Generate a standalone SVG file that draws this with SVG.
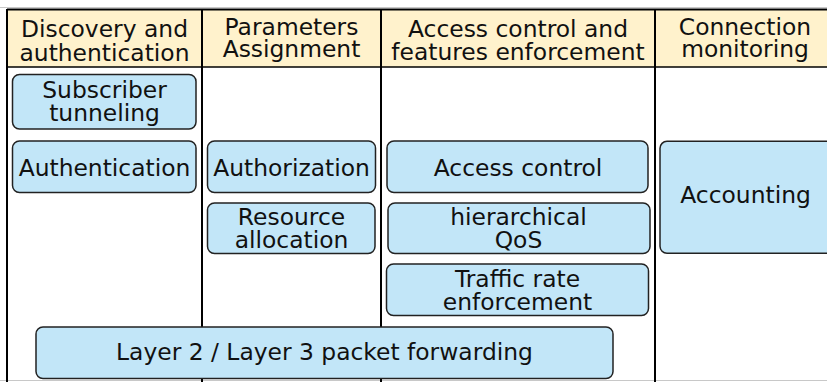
<svg xmlns="http://www.w3.org/2000/svg" width="827" height="382" viewBox="0 0 827 382">
<style>
.t{font-family:"DejaVu Sans","Noto Sans",sans-serif;font-size:23.4px;fill:#111;text-anchor:middle}
.b{fill:#c2e6f8;stroke:#222;stroke-width:1.5}
.ln{stroke:#000;stroke-width:2;fill:none}
</style>
<rect x="0" y="0" width="827" height="382" fill="#fff"/>
<g id="frame">
<line x1="0" y1="7.5" x2="827" y2="7.5" stroke="#c8c8c8" stroke-width="1.2"/>
<line x1="0" y1="380.5" x2="827" y2="380.5" stroke="#c8c8c8" stroke-width="1.2"/>
<rect x="7" y="9.5" width="830" height="57.5" fill="#fff2cc"/>
<line class="ln" x1="7" y1="9.5" x2="827" y2="9.5"/>
<line x1="7" y1="67" x2="827" y2="67" stroke="#000" stroke-width="1.5"/>
<line class="ln" x1="7" y1="9" x2="7" y2="382"/>
<line class="ln" x1="202" y1="9" x2="202" y2="382"/>
<line class="ln" x1="381" y1="9" x2="381" y2="382"/>
<line class="ln" x1="655" y1="9" x2="655" y2="382"/>
</g>
<g id="headers">
<text class="t" x="104.5" y="36.5">Discovery and</text>
<text class="t" x="104.5" y="60.5">authentication</text>
<text class="t" x="291.5" y="35">Parameters</text>
<text class="t" x="291.5" y="57">Assignment</text>
<text class="t" x="518" y="36.5">Access control and</text>
<text class="t" x="518" y="60">features enforcement</text>
<text class="t" x="745" y="35">Connection</text>
<text class="t" x="745" y="57.3">monitoring</text>
</g>
<g id="n-subscriber-tunneling">
<rect class="b" x="12.5" y="74.5" width="183.5" height="54.5" rx="7"/>
<text class="t" x="104.5" y="97.5">Subscriber</text>
<text class="t" x="104.5" y="120.5">tunneling</text>
</g>
<g id="n-authentication">
<rect class="b" x="12.5" y="141" width="183.5" height="51.5" rx="7"/>
<text class="t" x="104.5" y="175.7">Authentication</text>
</g>
<g id="n-authorization">
<rect class="b" x="207.5" y="141" width="168" height="51.5" rx="7"/>
<text class="t" x="291.5" y="175.7">Authorization</text>
</g>
<g id="n-resource-allocation">
<rect class="b" x="207.5" y="203" width="167.5" height="50.5" rx="7"/>
<text class="t" x="291.5" y="225">Resource</text>
<text class="t" x="291.5" y="248.3">allocation</text>
</g>
<g id="n-access-control">
<rect class="b" x="387" y="141" width="261" height="51.5" rx="7"/>
<text class="t" x="518" y="175.7">Access control</text>
</g>
<g id="n-hierarchical-qos">
<rect class="b" x="388" y="203" width="262" height="50.5" rx="7"/>
<text class="t" x="518.5" y="225">hierarchical</text>
<text class="t" x="518.5" y="248.3">QoS</text>
</g>
<g id="n-traffic-rate">
<rect class="b" x="386.5" y="264" width="262" height="51.5" rx="7"/>
<text class="t" x="517.5" y="286.7">Traffic rate</text>
<text class="t" x="517.5" y="310">enforcement</text>
</g>
<g id="n-accounting">
<rect class="b" x="660" y="141.3" width="180" height="112" rx="7"/>
<text class="t" x="745.5" y="203.3">Accounting</text>
</g>
<g id="n-forwarding">
<rect class="b" x="36" y="327" width="577" height="51.5" rx="7"/>
<text class="t" x="324.5" y="360">Layer 2 / Layer 3 packet forwarding</text>
</g>
<g id="connectors"></g>
</svg>
